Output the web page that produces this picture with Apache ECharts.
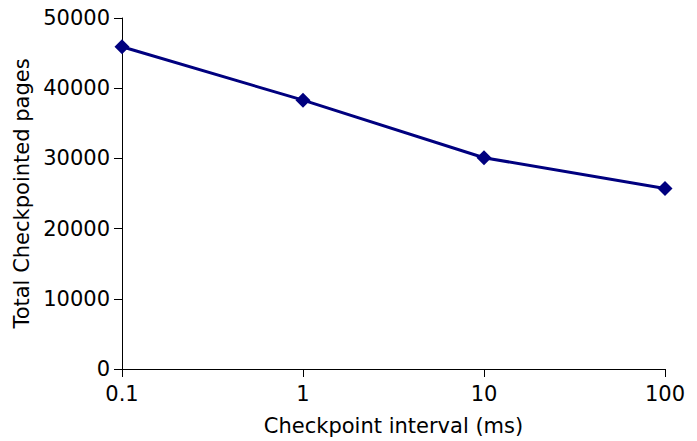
<!DOCTYPE html>
<html>
<head>
<meta charset="utf-8">
<script src="https://cdn.jsdelivr.net/npm/echarts@6/dist/echarts.min.js"></script>
<style>
  html, body { margin: 0; padding: 0; background: #fff; }
  #chart { width: 697px; height: 441px; }
</style>
</head>
<body>
<div id="chart"></div>
<script>
// Checkpoint interval (ms) and total checkpointed pages at each interval
const intervals = [0.1, 1, 10, 100];
const pages = [45900, 38300, 30100, 25700];
const yTicks = [0, 10000, 20000, 30000, 40000, 50000];

const chart = echarts.init(document.getElementById('chart'), null, { renderer: 'svg' });
const font = 'DejaVu Sans';
const axisColor = '#000';
const textSize = 21;

chart.setOption({
  animation: false,
  backgroundColor: '#fff',
  grid: { left: 122, right: 32, top: 18, bottom: 72, containLabel: false },
  xAxis: {
    type: 'log',
    logBase: 10,
    min: intervals[0],
    max: intervals[intervals.length - 1],
    name: 'Checkpoint interval (ms)',
    nameLocation: 'middle',
    nameGap: 46,
    nameTextStyle: { fontFamily: font, fontSize: textSize, color: '#000' },
    axisLine: { show: true, lineStyle: { color: axisColor, width: 1 } },
    axisTick: { show: true, inside: false, length: 8, lineStyle: { color: axisColor } },
    axisLabel: { fontFamily: font, fontSize: textSize, color: '#000', margin: 14,
      formatter: v => String(+v.toPrecision(3)) },
    splitLine: { show: false },
    minorTick: { show: false }
  },
  yAxis: {
    type: 'value',
    min: yTicks[0],
    max: yTicks[yTicks.length - 1],
    interval: yTicks[1] - yTicks[0],
    name: 'Total Checkpointed pages',
    nameLocation: 'middle',
    nameGap: 90,
    nameTextStyle: { fontFamily: font, fontSize: textSize, color: '#000' },
    axisLine: { show: true, lineStyle: { color: axisColor, width: 1 } },
    axisTick: { show: true, inside: false, length: 8, lineStyle: { color: axisColor } },
    axisLabel: { fontFamily: font, fontSize: textSize, color: '#000', margin: 12,
      formatter: v => String(v) },
    splitLine: { show: false }
  },
  series: [{
    type: 'line',
    data: intervals.map((x, i) => [x, pages[i]]),
    symbol: 'diamond',
    symbolSize: 15,
    lineStyle: { color: '#00007f', width: 3 },
    itemStyle: { color: '#00007f' },
    emphasis: { disabled: true }
  }]
});
</script>
</body>
</html>
